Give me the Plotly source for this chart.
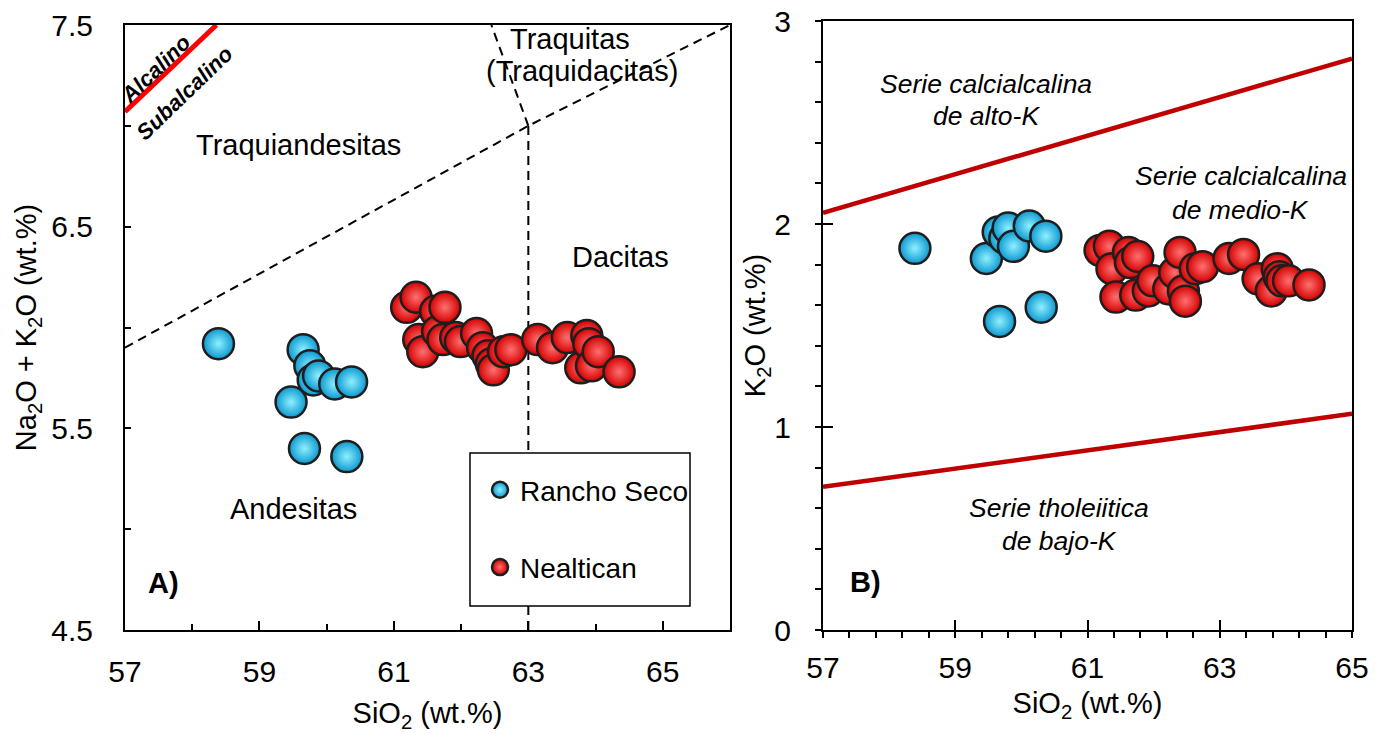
import plotly.graph_objects as go

# ---- Rancho Seco samples ----
rs_sio2 = [58.39, 59.47, 59.65, 59.67, 59.75, 59.80, 59.88, 60.12, 60.30, 60.37]
rs_alk = [5.92, 5.63, 5.89, 5.40, 5.81, 5.74, 5.76, 5.72, 5.36, 5.73]
rs_k2o = [1.88, 1.83, 1.96, 1.52, 1.93, 1.98, 1.89, 1.99, 1.59, 1.94]

# ---- Nealtican samples ----
ne_sio2 = [61.19, 61.33, 61.37, 61.43, 61.62, 61.65, 61.73, 61.76, 61.92, 61.99,
           62.23, 62.32, 62.40, 62.45, 62.48, 62.63, 62.74, 63.14, 63.36, 63.58,
           63.78, 63.87, 63.90, 63.94, 64.04, 64.35]
ne_alk = [6.10, 6.15, 5.94, 5.88, 6.08, 5.98, 5.94, 6.10, 5.95, 5.93,
          5.97, 5.90, 5.86, 5.82, 5.79, 5.88, 5.89, 5.94, 5.90, 5.95,
          5.80, 5.96, 5.92, 5.81, 5.88, 5.78]
ne_k2o = [1.87, 1.89, 1.78, 1.64, 1.86, 1.81, 1.65, 1.84, 1.67, 1.72,
          1.68, 1.76, 1.86, 1.67, 1.62, 1.78, 1.79, 1.83, 1.85, 1.73,
          1.67, 1.78, 1.74, 1.72, 1.72, 1.70]

# ---- TAS boundaries (SiO2, Na2O+K2O) ----
alk_sub_x = [57.0, 58.36]
alk_sub_y = [7.07, 7.50]
tas_diag_x = [57.0, 63.0, 66.0]
tas_diag_y = [5.90, 7.00, 7.50]
tas_vert_x = [63.0, 63.0]
tas_vert_y = [4.5, 7.0]
tas_trach_x = [63.0, 62.45]
tas_trach_y = [7.0, 7.5]

# ---- K2O vs SiO2 series boundaries ----
highk_x = [57.0, 65.0]
highk_y = [2.055, 2.815]
lowk_x = [57.0, 65.0]
lowk_y = [0.705, 1.065]

FONT = "Arial, Liberation Sans, sans-serif"
BLUE_EDGE, BLUE_CORE = "#0b98d0", "#8ff0ff"
RED_EDGE, RED_CORE = "#d40000", "#ff7070"


def marker(edge, core):
    return dict(size=31, color=edge,
                gradient=dict(type="radial", color=core),
                line=dict(color="#1e1e1e", width=2.5))


fig = go.Figure()

# boundary lines, left panel
dash = dict(color="black", width=2, dash="9px,6px")
fig.add_trace(go.Scatter(x=tas_diag_x, y=tas_diag_y, mode="lines", line=dash,
                         showlegend=False, hoverinfo="skip", xaxis="x", yaxis="y"))
fig.add_trace(go.Scatter(x=tas_vert_x, y=tas_vert_y, mode="lines", line=dash,
                         showlegend=False, hoverinfo="skip", xaxis="x", yaxis="y"))
fig.add_trace(go.Scatter(x=tas_trach_x, y=tas_trach_y, mode="lines", line=dash,
                         showlegend=False, hoverinfo="skip", xaxis="x", yaxis="y"))
fig.add_trace(go.Scatter(x=alk_sub_x, y=alk_sub_y, mode="lines",
                         line=dict(color="#ff0000", width=5),
                         showlegend=False, hoverinfo="skip", xaxis="x", yaxis="y"))

# boundary lines, right panel
for lx, ly in [(highk_x, highk_y), (lowk_x, lowk_y)]:
    fig.add_trace(go.Scatter(x=lx, y=ly, mode="lines",
                             line=dict(color="#c00000", width=4.5),
                             showlegend=False, hoverinfo="skip", xaxis="x2", yaxis="y2"))

# samples, left panel
fig.add_trace(go.Scatter(x=rs_sio2, y=rs_alk, mode="markers", name="Rancho Seco",
                         legendgroup="rs", marker=marker(BLUE_EDGE, BLUE_CORE),
                         xaxis="x", yaxis="y"))
fig.add_trace(go.Scatter(x=ne_sio2, y=ne_alk, mode="markers", name="Nealtican",
                         legendgroup="ne", marker=marker(RED_EDGE, RED_CORE),
                         xaxis="x", yaxis="y"))
# samples, right panel
fig.add_trace(go.Scatter(x=rs_sio2, y=rs_k2o, mode="markers", name="Rancho Seco",
                         legendgroup="rs", showlegend=False,
                         marker=marker(BLUE_EDGE, BLUE_CORE), xaxis="x2", yaxis="y2"))
fig.add_trace(go.Scatter(x=ne_sio2, y=ne_k2o, mode="markers", name="Nealtican",
                         legendgroup="ne", showlegend=False,
                         marker=marker(RED_EDGE, RED_CORE), xaxis="x2", yaxis="y2"))

# empty trace carrying the inner tick overlay of the right panel
fig.add_trace(go.Scatter(x=[None], y=[None], mode="markers", showlegend=False,
                         hoverinfo="skip", xaxis="x3", yaxis="y3"))

tickfont = dict(family=FONT, size=30, color="black")
titlefont = dict(family=FONT, size=29, color="black")
frame = dict(showline=True, linecolor="black", linewidth=2, mirror=True,
             showgrid=False, zeroline=False, automargin=False)

W, H = 1387, 733
LX = [125 / W, 730 / W]
RX = [823 / W, 1352 / W]
LY = [1 - 630 / H, 1 - 25 / H]
RY = [1 - 630 / H, 1 - 21 / H]

fig.update_layout(
    width=W, height=H,
    margin=dict(l=0, r=0, t=0, b=0, autoexpand=False),
    paper_bgcolor="white", plot_bgcolor="white",
    font=dict(family=FONT, size=28, color="black"),
    xaxis=dict(domain=LX, range=[57, 66], anchor="y", **frame,
               tickvals=[57, 59, 61, 63, 65], ticks="inside", ticklen=9,
               tickwidth=1.5, tickcolor="black",
               minor=dict(tickvals=[58, 60, 62, 64], ticks="inside", ticklen=6,
                          tickwidth=1.5, tickcolor="black"),
               tickfont=tickfont, ticklabelstandoff=14,
               title=dict(text="SiO<sub>2</sub> (wt.%)", font=titlefont, standoff=16)),
    yaxis=dict(domain=LY, range=[4.5, 7.5], anchor="x", **frame,
               tickvals=[4.5, 5.5, 6.5, 7.5], ticktext=["4.5", "5.5", "6.5", "7.5"],
               ticks="inside", ticklen=6, tickwidth=1.5, tickcolor="black",
               minor=dict(tickvals=[5.0, 6.0, 7.0], ticks="inside", ticklen=6,
                          tickwidth=1.5, tickcolor="black"),
               tickfont=tickfont, ticklabelstandoff=24,
               title=dict(text="Na<sub>2</sub>O + K<sub>2</sub>O (wt.%)",
                          font=titlefont, standoff=6)),
    xaxis2=dict(domain=RX, range=[57, 65], anchor="y2", **frame,
                tickvals=[57, 59, 61, 63, 65], ticks="outside", ticklen=6,
                tickwidth=1.5, tickcolor="black",
                minor=dict(dtick=0.4, tick0=57, ticks="outside", ticklen=6,
                           tickwidth=1.5, tickcolor="black"),
                tickfont=tickfont, ticklabelstandoff=4,
                title=dict(text="SiO<sub>2</sub> (wt.%)", font=titlefont, standoff=10)),
    yaxis2=dict(domain=RY, range=[0, 3], anchor="x2", **frame,
                tickvals=[0, 1, 2, 3], ticks="outside", ticklen=6,
                tickwidth=1.5, tickcolor="black",
                minor=dict(dtick=0.2, tick0=0, ticks="outside", ticklen=6,
                           tickwidth=1.5, tickcolor="black"),
                tickfont=tickfont, ticklabelstandoff=18,
                title=dict(text="K<sub>2</sub>O (wt.%)", font=titlefont, standoff=0)),
    xaxis3=dict(overlaying="x2", anchor="y3", range=[57, 65], showline=False,
                showgrid=False, zeroline=False, automargin=False,
                tickvals=[57, 59, 61, 63, 65],
                ticks="inside", ticklen=10, tickwidth=1.5, tickcolor="black",
                showticklabels=False),
    yaxis3=dict(overlaying="y2", anchor="x3", range=[0, 3], showline=False,
                showgrid=False, zeroline=False, automargin=False,
                tickvals=[0, 1, 2, 3],
                ticks="inside", ticklen=10, tickwidth=1.5, tickcolor="black",
                showticklabels=False),
    legend=dict(x=480 / W, y=1 - 465 / H, xanchor="left", yanchor="top",
                borderwidth=0, bgcolor="rgba(0,0,0,0)",
                font=dict(family=FONT, size=28, color="black"),
                traceorder="grouped", tracegroupgap=38, itemsizing="trace"),
    showlegend=True,
    # legend frame, drawn over the boundary lines
    shapes=[dict(type="rect", xref="paper", yref="paper",
                 x0=470 / W, x1=690 / W, y0=1 - 606 / H, y1=1 - 453 / H,
                 line=dict(color="black", width=1.5), fillcolor="white",
                 layer="above")],
)


def note(text, x, y, ref, size=29, **kw):
    xr, yr = ref
    fig.add_annotation(text=text, x=x, y=y, xref=xr, yref=yr, showarrow=False,
                       font=dict(family=FONT, size=size, color="black"), **kw)


L = ("x", "y")
R = ("x2", "y2")
note("Traquiandesitas", 59.58, 6.905, L)
note("Traquitas", 63.62, 7.43, L)
note("(Traquidacitas)", 63.8, 7.27, L)
note("Dacitas", 64.37, 6.35, L)
note("Andesitas", 59.50, 5.10, L)
note("<b><i>Alcalino</i></b>", 57.46, 7.285, L, size=22, textangle=-44)
note("<b><i>Subalcalino</i></b>", 57.88, 7.16, L, size=22, textangle=-44)
note("<b>A)</b>", 57.58, 4.735, L, size=29)

note("<i>Serie calcialcalina</i>", 59.47, 2.69, R, size=26.5)
note("<i>de alto-K</i>", 59.47, 2.53, R, size=26.5)
note("<i>Serie calcialcalina</i>", 63.32, 2.235, R, size=26.5)
note("<i>de medio-K</i>", 63.32, 2.07, R, size=26.5)
note("<i>Serie tholeiitica</i>", 60.57, 0.60, R, size=26.5)
note("<i>de bajo-K</i>", 60.57, 0.44, R, size=26.5)
note("<b>B)</b>", 57.65, 0.235, R, size=29)

fig.write_html("out.html")
